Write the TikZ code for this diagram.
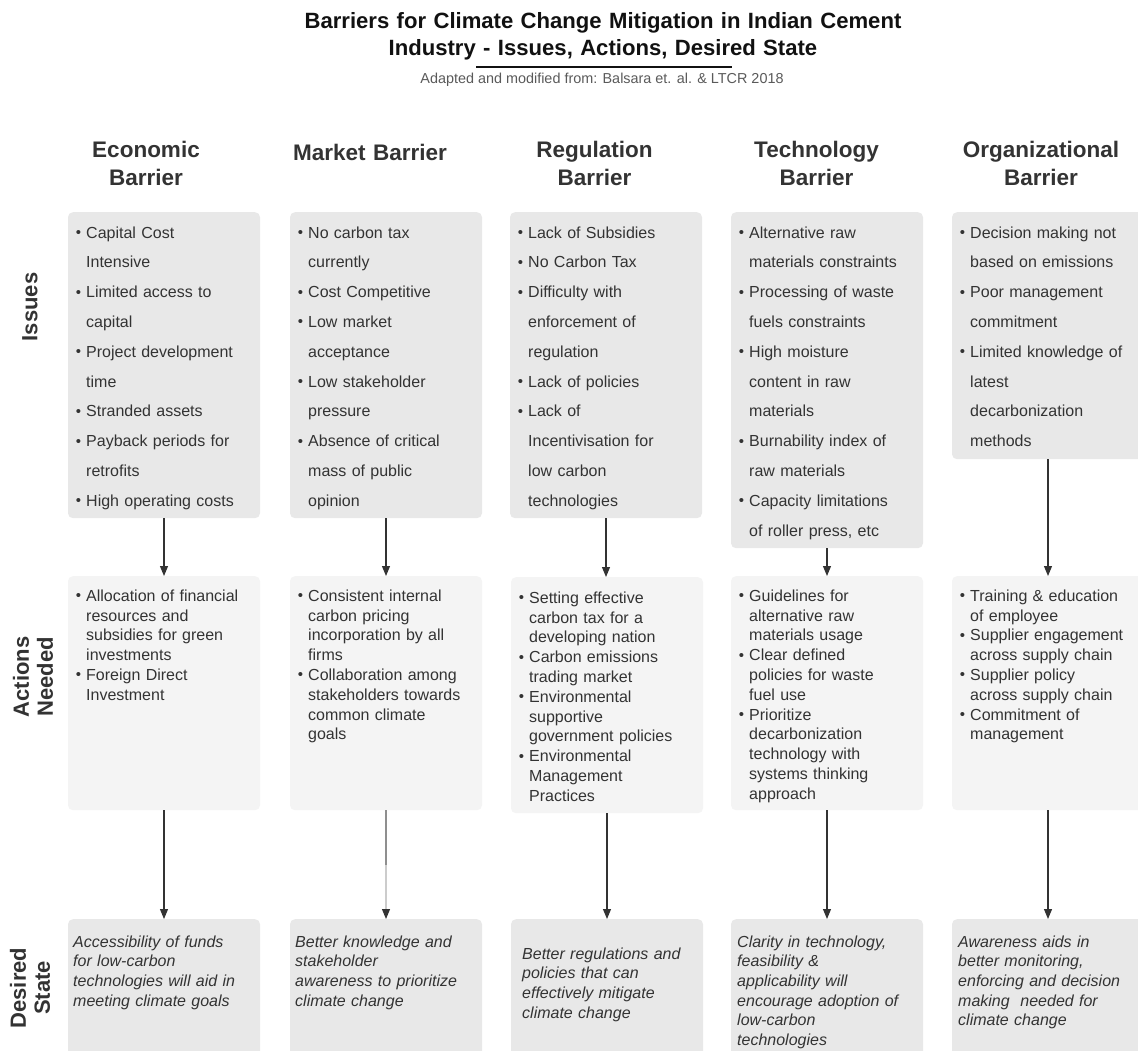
\documentclass[tikz,border=0pt]{standalone}
\usepackage{fontspec}
\setmainfont{Liberation Sans}
\usetikzlibrary{arrows.meta}

\definecolor{txt}{HTML}{333333}
\definecolor{titlec}{HTML}{111111}
\definecolor{subc}{HTML}{5A5A5A}
\definecolor{issuefill}{HTML}{E8E8E8}
\definecolor{actfill}{HTML}{F4F4F4}
\definecolor{linec}{HTML}{333333}

% bullet and continuation indent for list lines
\newcommand\bl{\makebox[18pt][l]{\hspace{7.6pt}\raisebox{0.6pt}{\fontsize{15}{15}\selectfont •}}}
\newcommand\ct{\hspace*{18pt}}

\begin{document}
\begin{tikzpicture}[x=1pt,y=-1pt,
  box/.style={draw=none, rounded corners=5pt, minimum width=192pt, inner sep=0pt, anchor=north},
  ibox/.style={box, fill=issuefill},
  abox/.style={box, fill=actfill},
  dbox/.style={box, fill=issuefill},
  itext/.style={anchor=north west, inner sep=0pt, text width=185pt, align=left, text=txt,
    font=\fontsize{16}{29.8}\selectfont, execute at begin node=\rule{0pt}{13pt}},
  atext/.style={itext, font=\fontsize{16}{19.8}\selectfont},
  dtext/.style={itext, font=\fontsize{16}{19.6}\selectfont\itshape},
  head/.style={anchor=north, inner sep=0pt, text width=220pt, align=center, text=txt,
    font=\fontsize{22.5}{28}\selectfont\bfseries, execute at begin node=\rule{0pt}{17pt}},
  rowlab/.style={rotate=90, inner sep=0pt, align=center, text=txt,
    font=\fontsize{22}{24}\selectfont\bfseries},
  arr/.style={draw=linec, line width=1.1pt, -{Triangle[length=10pt,width=8pt,color=linec]}}
]
% canvas
\fill[white] (0,0) rectangle (1138,1051);
\useasboundingbox (0,0) rectangle (1138,1051);

% title block
\node[head, text=titlec, text width=760pt, font=\fontsize{22.1}{27}\selectfont\bfseries] (title) at (603,11)
  {Barriers for Climate Change Mitigation in Indian Cement\\Industry - Issues, Actions, Desired State};
\coordinate (ulA) at (476,67);
\coordinate (ulB) at (732,67);
\draw[line width=1.5pt, titlec] (ulA) -- (ulB);
\node[anchor=base, inner sep=0pt, text=subc, font=\fontsize{14.4}{16}\selectfont] (sub) at (602,84)
  {Adapted and modified from: Balsara et. al. \& LTCR 2018};

% column headings
\node[head] (h1) at (146,140) {Economic\\Barrier};
\node[head] (h2) at (370,143) {Market Barrier};
\node[head] (h3) at (594.5,140) {Regulation\\Barrier};
\node[head] (h4) at (816.5,140) {Technology\\Barrier};
\node[head] (h5) at (1041,140) {Organizational\\Barrier};

% row headings
\node[rowlab] (r1) at (30,307) {Issues};
\node[rowlab] (r2) at (33,677) {Actions\\Needed};
\node[rowlab] (r3) at (30,988) {Desired\\State};

% issues row
\node[ibox, minimum height=306pt] (i1) at (164,212) {};
\node[ibox, minimum height=306pt] (i2) at (386,212) {};
\node[ibox, minimum height=306pt] (i3) at (606,212) {};
\node[ibox, minimum height=336pt] (i4) at (827,212) {};
\node[ibox, minimum height=247pt] (i5) at (1048,212) {};

% actions row
\node[abox, minimum height=234pt] (a1) at (164,576) {};
\node[abox, minimum height=234pt] (a2) at (386,576) {};
\node[abox, minimum height=236pt] (a3) at (607,577) {};
\node[abox, minimum height=234pt] (a4) at (827,576) {};
\node[abox, minimum height=234pt] (a5) at (1048,576) {};

% desired state row
\node[dbox, minimum height=140pt] (d1) at (164,919) {};
\node[dbox, minimum height=140pt] (d2) at (386,919) {};
\node[dbox, minimum height=140pt] (d3) at (607,919) {};
\node[dbox, minimum height=140pt] (d4) at (827,919) {};
\node[dbox, minimum height=140pt] (d5) at (1048,919) {};

% issues texts
\node[itext] (ti1) at (68,225) {\bl Capital Cost\\\ct Intensive\\\bl Limited access to\\\ct capital\\\bl Project development\\\ct time\\\bl Stranded assets\\\bl Payback periods for\\\ct retrofits\\\bl High operating costs};
\node[itext] (ti2) at (290,225) {\bl No carbon tax\\\ct currently\\\bl Cost Competitive\\\bl Low market\\\ct acceptance\\\bl Low stakeholder\\\ct pressure\\\bl Absence of critical\\\ct mass of public\\\ct opinion};
\node[itext] (ti3) at (510,225) {\bl Lack of Subsidies\\\bl No Carbon Tax\\\bl Difficulty with\\\ct enforcement of\\\ct regulation\\\bl Lack of policies\\\bl Lack of\\\ct Incentivisation for\\\ct low carbon\\\ct technologies};
\node[itext] (ti4) at (731,225) {\bl Alternative raw\\\ct materials constraints\\\bl Processing of waste\\\ct fuels constraints\\\bl High moisture\\\ct content in raw\\\ct materials\\\bl Burnability index of\\\ct raw materials\\\bl Capacity limitations\\\ct of roller press, etc};
\node[itext] (ti5) at (952,225) {\bl Decision making not\\\ct based on emissions\\\bl Poor management\\\ct commitment\\\bl Limited knowledge of\\\ct latest\\\ct decarbonization\\\ct methods};

% actions texts
\node[atext] (ta1) at (68,588) {\bl Allocation of financial\\\ct resources and\\\ct subsidies for green\\\ct investments\\\bl Foreign Direct\\\ct Investment};
\node[atext] (ta2) at (290,588) {\bl Consistent internal\\\ct carbon pricing\\\ct incorporation by all\\\ct firms\\\bl Collaboration among\\\ct stakeholders towards\\\ct common climate\\\ct goals};
\node[atext] (ta3) at (511,590) {\bl Setting effective\\\ct carbon tax for a\\\ct developing nation\\\bl Carbon emissions\\\ct trading market\\\bl Environmental\\\ct supportive\\\ct government policies\\\bl Environmental\\\ct Management\\\ct Practices};
\node[atext] (ta4) at (731,588) {\bl Guidelines for\\\ct alternative raw\\\ct materials usage\\\bl Clear defined\\\ct policies for waste\\\ct fuel use\\\bl Prioritize\\\ct decarbonization\\\ct technology with\\\ct systems thinking\\\ct approach};
\node[atext] (ta5) at (952,588) {\bl Training \& education\\\ct of employee\\\bl Supplier engagement\\\ct across supply chain\\\bl Supplier policy\\\ct across supply chain\\\bl Commitment of\\\ct management};

% desired state texts
\node[dtext] (td1) at (73,934) {Accessibility of funds\\for low-carbon\\technologies will aid in\\meeting climate goals};
\node[dtext] (td2) at (295,934) {Better knowledge and\\stakeholder\\awareness to prioritize\\climate change};
\node[dtext] (td3) at (522,946) {Better regulations and\\policies that can\\effectively mitigate\\climate change};
\node[dtext] (td4) at (737,934) {Clarity in technology,\\feasibility \&\\applicability will\\encourage adoption of\\low-carbon\\technologies};
\node[dtext] (td5) at (958,934) {Awareness aids in\\better monitoring,\\enforcing and decision\\making\ \ needed for\\climate change};

% connectors: issues -> actions
\draw[arr] (i1.south) -- (a1.north);
\draw[arr] (i2.south) -- (a2.north);
\draw[arr] (i3.south) -- (i3.south |- a3.north);
\draw[arr] (i4.south) -- (a4.north);
\draw[arr] (i5.south) -- (a5.north);

% connectors: actions -> desired state
\draw[arr] (a1.south) -- (d1.north);
\coordinate (m2) at (386,865);
\draw[draw=linec!55, line width=1.1pt] (a2.south) -- (m2);
\draw[arr, draw=linec!25] (m2) -- (d2.north);
\draw[arr] (a3.south) -- (d3.north);
\draw[arr] (a4.south) -- (d4.north);
\draw[arr] (a5.south) -- (d5.north);
\end{tikzpicture}
\end{document}
